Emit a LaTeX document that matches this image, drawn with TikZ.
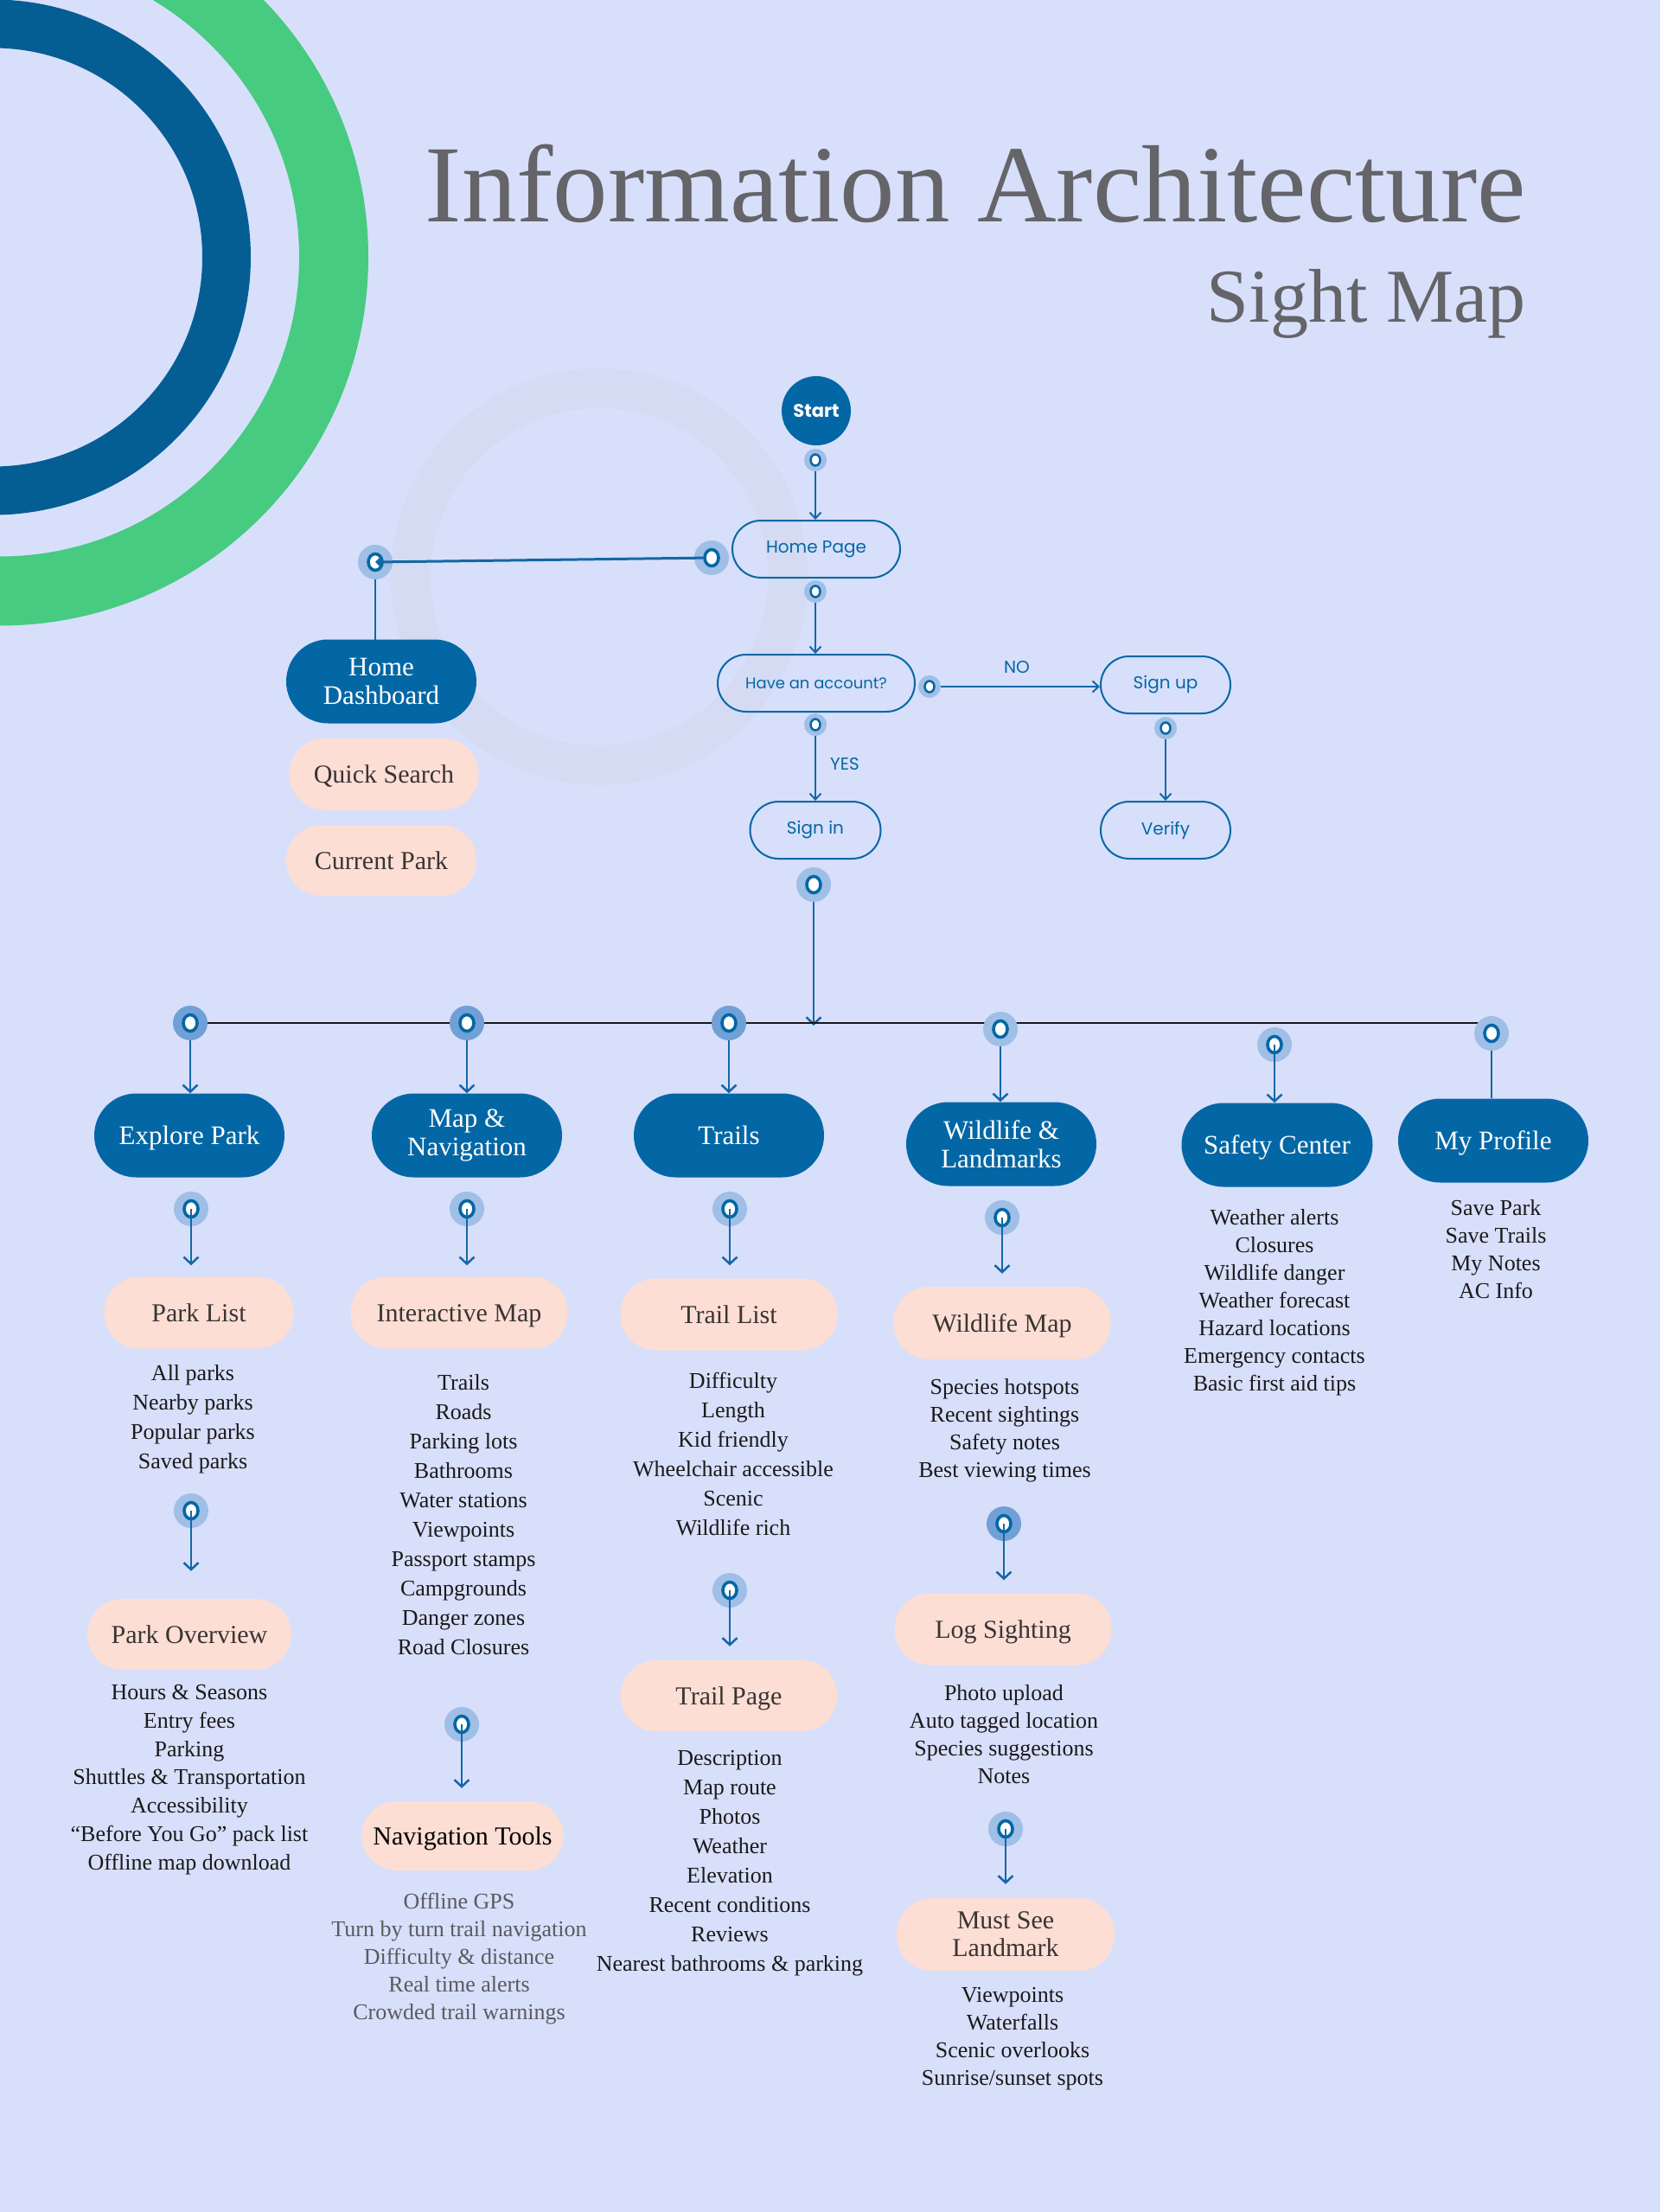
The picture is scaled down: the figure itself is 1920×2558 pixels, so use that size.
\documentclass[tikz,border=0pt]{standalone}
\usepackage{fontspec}
\setmainfont{Liberation Serif}
\newfontfamily\popp{Poppins}
\usetikzlibrary{arrows.meta}
\definecolor{bg}{HTML}{D8DFFA}
\definecolor{dblue}{HTML}{0467A5}
\definecolor{ringblue}{HTML}{055E93}
\definecolor{mygreen}{HTML}{46CB81}
\definecolor{peach}{HTML}{FDDED4}
\definecolor{pinlt}{HTML}{9FBFE6}
\definecolor{pindk}{HTML}{70A0D5}
\definecolor{linec}{HTML}{1467A6}
\definecolor{titlec}{HTML}{646469}
\definecolor{boxtxt}{HTML}{3A3434}
\definecolor{listc}{HTML}{1A1A1A}
\definecolor{graytxt}{HTML}{5A5A5E}
\definecolor{faintring}{HTML}{D5DBF2}
\tikzset{
  darkbox/.style={rectangle, rounded corners=48.5pt, fill=dblue, text=white, minimum width=220pt, minimum height=97pt, inner sep=0pt, align=center, font=\fontsize{31}{33}\selectfont},
  peachbox/.style={rectangle, rounded corners=41pt, fill=peach, text=boxtxt, minimum height=82pt, inner sep=0pt, align=center, font=\fontsize{30}{32}\selectfont},
  oneline/.style={text height=21pt, text depth=1pt},
  outbox/.style={rectangle, rounded corners=33pt, draw=dblue, line width=2pt, text=dblue, minimum height=66pt, inner sep=0pt, font=\popp\fontsize{20}{24}\selectfont},
  listtxt/.style={align=center, text=listc, inner sep=0pt, font=\fontsize{26}{34}\selectfont},
  listtxtb/.style={align=center, text=listc, inner sep=0pt, font=\fontsize{26}{32}\selectfont},
  pinsmall/.style={circle, fill=pinlt, minimum size=26pt, inner sep=0pt, path picture={\draw[dblue, line width=2.5pt, fill=white] (path picture bounding box.center) circle[x radius=5.5pt, y radius=6.5pt];}},
  pinbig/.style={circle, fill=#1, minimum size=40pt, inner sep=0pt, path picture={\draw[dblue, line width=3.6pt, fill=white] (path picture bounding box.center) circle[x radius=8pt, y radius=9.5pt];}},
  pinbig/.default=pinlt,
  conn/.style={draw=linec, line width=2.5pt},
  arr/.style={conn, -{Straight Barb[length=8pt, width=17pt]}},
  arrS/.style={draw=linec, line width=2pt, -{Straight Barb[length=7pt, width=13pt]}},
  lbl/.style={text=dblue, font=\popp\fontsize{20}{24}\selectfont, inner sep=0pt}
}
\begin{document}
\begin{tikzpicture}[x=1pt,y=-1pt]
\useasboundingbox (0,0) rectangle (1920,2558);
\fill[bg] (0,0) rectangle (1920,2558);
\begin{scope}
  \clip (0,0) rectangle (1920,2558);
  \draw[ringblue, line width=56pt] (-8,297.5) circle[radius=270pt];
  \draw[mygreen, line width=80pt] (0,297.5) circle[radius=386pt];
  \draw[faintring, line width=46pt] (693,667) circle[radius=218pt];
\end{scope}

% titles
\node[anchor=base east, text=titlec, inner sep=0pt, font=\fontsize{127}{132}\selectfont] (title) at (1765,256) {Information Architecture};
\node[anchor=base east, text=titlec, inner sep=0pt, font=\fontsize{88}{92}\selectfont] (subtitle) at (1765,372) {Sight Map};

% top flow
\node[circle, fill=dblue, minimum size=80pt, inner sep=0pt, text=white, font=\popp\bfseries\fontsize{21}{24}\selectfont] (start) at (944,475) {Start};
\node[outbox, minimum width=194pt] (home) at (944,635) {Home Page};
\node[outbox, minimum width=228pt, font=\popp\fontsize{18}{22}\selectfont] (acc) at (944,790) {Have an account?};
\node[outbox, minimum width=150pt] (signup) at (1348,792) {Sign up};
\node[outbox, minimum width=150pt] (verify) at (1348,960) {Verify};
\node[outbox, minimum width=151pt] (signin) at (943,960) {Sign in};
\node[lbl] (no) at (1176,772) {NO};
\node[lbl] (yes) at (977,884) {YES};

\node[darkbox] (dash) at (441,788) {Home\\Dashboard};
\node[peachbox, oneline, minimum width=219pt, minimum height=83pt] (quick) at (444,895) {Quick Search};
\node[peachbox, oneline, minimum width=220pt] (current) at (441,995) {Current Park};

% level 1
\node[darkbox, oneline] (explore) at (219,1313) {Explore Park};
\node[darkbox] (mapnav) at (540,1313) {Map \&\\Navigation};
\node[darkbox, oneline] (trails) at (843,1313) {Trails};
\node[darkbox] (wild) at (1158,1323) {Wildlife \&\\Landmarks};
\node[darkbox, oneline, minimum width=221pt] (safety) at (1477,1324) {Safety Center};
\node[darkbox, oneline] (profile) at (1727,1319) {My Profile};

% level 2 boxes
\node[peachbox, oneline, minimum width=219pt, minimum height=83pt] (parklist) at (230,1518) {Park List};
\node[peachbox, oneline, minimum width=251pt, minimum height=83pt] (imap) at (531,1518) {Interactive Map};
\node[peachbox, oneline, minimum width=251pt, minimum height=83pt] (traillist) at (843,1520) {Trail List};
\node[peachbox, oneline, minimum width=251pt, minimum height=84pt] (wmap) at (1159,1530) {Wildlife Map};
\node[peachbox, oneline, minimum width=236pt] (overview) at (219,1890) {Park Overview};
\node[peachbox, oneline, minimum width=234pt, minimum height=80pt, text=black] (navtools) at (535,2123) {Navigation Tools};
\node[peachbox, oneline, minimum width=251pt] (trailpage) at (843,1961) {Trail Page};
\node[peachbox, oneline, minimum width=251pt, minimum height=83pt] (logs) at (1160,1884) {Log Sighting};
\node[peachbox, minimum width=252pt, minimum height=84pt] (mustsee) at (1163,2237) {Must See\\Landmark};

% lists
\node[listtxt] (l_park) at (223,1641) {All parks\\Nearby parks\\Popular parks\\Saved parks};
\node[listtxt] (l_imap) at (536,1752) {Trails\\Roads\\Parking lots\\Bathrooms\\Water stations\\Viewpoints\\Passport stamps\\Campgrounds\\Danger zones\\Road Closures};
\node[listtxt] (l_trail) at (848,1682) {Difficulty\\Length\\Kid friendly\\Wheelchair accessible\\Scenic\\Wildlife rich};
\node[listtxtb] (l_wmap) at (1162,1654) {Species hotspots\\Recent sightings\\Safety notes\\Best viewing times};
\node[listtxtb] (l_safety) at (1474,1506) {Weather alerts\\Closures\\Wildlife danger\\Weather forecast\\Hazard locations\\Emergency contacts\\Basic first aid tips};
\node[listtxtb] (l_profile) at (1730,1445) {Save Park\\Save Trails\\My Notes\\AC Info};
\node[listtxt, font=\fontsize{26}{32.8}\selectfont] (l_over) at (219,2058) {Hours \& Seasons\\Entry fees\\Parking\\Shuttles \& Transportation\\Accessibility\\``Before You Go'' pack list\\Offline map download};
\node[listtxtb, text=graytxt] (l_nav) at (531,2265) {Offline GPS\\Turn by turn trail navigation\\Difficulty \& distance\\Real time alerts\\Crowded trail warnings};
\node[listtxt] (l_tpage) at (844,2155) {Description\\Map route\\Photos\\Weather\\Elevation\\Recent conditions\\Reviews\\Nearest bathrooms \& parking};
\node[listtxtb] (l_log) at (1161,2006) {Photo upload\\Auto tagged location\\Species suggestions\\Notes};
\node[listtxtb] (l_must) at (1171,2358) {Viewpoints\\Waterfalls\\Scenic overlooks\\Sunrise/sunset spots};

% pin positions
\coordinate (hub) at (941,1186);
\path (943,532) coordinate (c_ps1) (943,684) coordinate (c_ps2) (1075,794) coordinate (c_pacr)
      (943,838) coordinate (c_pacb) (1348,842) coordinate (c_psu);

% connectors under the pins
\draw[conn, line width=2.5pt] (434,650) -- (434,740);
\draw[arrS] (c_ps1) -- (c_ps1 |- home.north);
\draw[arrS] (c_ps2) -- (c_ps2 |- acc.north);
\draw[arrS] (c_pacr) -- (c_pacr -| signup.west);
\draw[arrS] (c_pacb) -- (c_pacb |- signin.north);
\draw[arrS] (c_psu) -- (c_psu |- verify.north);
\draw[arr] (941,1023) -- (hub);
\draw[black!90, line width=1.8pt] (220,1183) -- (1725,1183);
\draw[arr] (220,1183) -- (220,1183 |- explore.north);
\draw[arr] (540,1183) -- (540,1183 |- mapnav.north);
\draw[arr] (843,1183) -- (843,1183 |- trails.north);
\draw[arr] (1157,1190) -- (1157,1190 |- wild.north);
\draw[conn] (1725,1195) -- (1725,1195 |- profile.north);

% pins
\node[pinsmall] (ps1) at (c_ps1) {};
\node[pinsmall] (ps2) at (c_ps2) {};
\node[pinsmall] (pacr) at (c_pacr) {};
\node[pinsmall] (pacb) at (c_pacb) {};
\node[pinsmall] (psu) at (c_psu) {};
\node[pinbig] (phl) at (823,645) {};
\node[pinbig] (pdash) at (434,650) {};
\node[pinbig] (psi) at (941,1023) {};
\node[pinbig=pindk] (pexp) at (220,1183) {};
\node[pinbig=pindk] (pmap) at (540,1183) {};
\node[pinbig=pindk] (ptr) at (843,1183) {};
\node[pinbig] (pwl) at (1157,1190) {};
\node[pinbig] (psf) at (1474,1208) {};
\node[pinbig] (ppr) at (1725,1195) {};
\node[pinbig] (pexp2) at (221,1398) {};
\node[pinbig] (pmap2) at (540,1398) {};
\node[pinbig] (ptr2) at (844,1398) {};
\node[pinbig] (pwl2) at (1159,1408) {};
\node[pinbig] (pexp3) at (221,1747) {};
\node[pinbig] (pmap3) at (534,1994) {};
\node[pinbig] (ptr3) at (844,1839) {};
\node[pinbig=pindk] (pwl3) at (1161,1762) {};
\node[pinbig] (pwl4) at (1163,2115) {};

% connectors over the pins
\draw[conn, line width=3pt, -{Straight Barb[length=5pt, width=10pt]}, shorten <=10pt] (phl.center) -- (pdash.center);
\draw[arr] (psf.center) -- (psf.center |- safety.north);
\draw[arr, shorten >=13pt] (pexp2.center) -- (pexp2.center |- parklist.north);
\draw[arr, shorten >=13pt] (pmap2.center) -- (pmap2.center |- imap.north);
\draw[arr, shorten >=15pt] (ptr2.center) -- (ptr2.center |- traillist.north);
\draw[arr, shorten >=15pt] (pwl2.center) -- (pwl2.center |- wmap.north);
\draw[arr, shorten >=32pt] (pexp3.center) -- (pexp3.center |- overview.north);
\draw[arr, shorten >=15pt] (pmap3.center) -- (pmap3.center |- navtools.north);
\draw[arr, shorten >=16pt] (ptr3.center) -- (ptr3.center |- trailpage.north);
\draw[arr, shorten >=15pt] (pwl3.center) -- (pwl3.center |- logs.north);
\draw[arr, shorten >=16pt] (pwl4.center) -- (pwl4.center |- mustsee.north);
\end{tikzpicture}
\end{document}
